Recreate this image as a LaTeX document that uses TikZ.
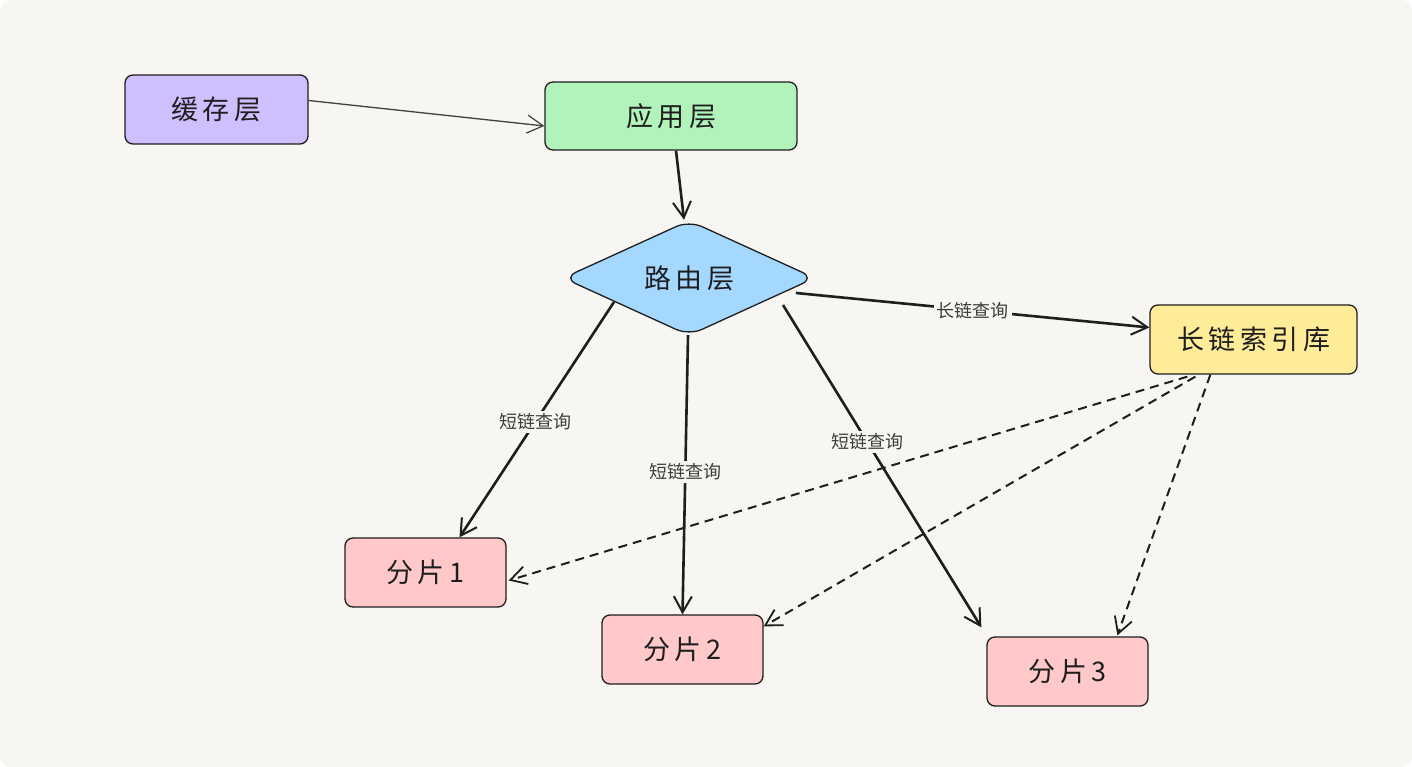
\documentclass[tikz,border=0pt]{standalone}
\usepackage{fontspec}
\newfontfamily\cjk{Noto Sans CJK SC}
\usetikzlibrary{arrows.meta,shapes.geometric,calc}
\definecolor{bgc}{RGB}{248,246,242}
\definecolor{ink}{RGB}{30,30,30}
\definecolor{violetf}{HTML}{D0BFFF}
\definecolor{greenf}{HTML}{B2F2BB}
\definecolor{bluef}{HTML}{A5D8FF}
\definecolor{yellowf}{HTML}{FFEC99}
\definecolor{redf}{HTML}{FFC9C9}
\definecolor{labc}{RGB}{60,60,60}
\tikzset{
  box/.style={draw=ink, line width=1.3pt, rounded corners=8pt, inner sep=0pt, font=\cjk\fontsize{27}{30}\selectfont, text=ink},
  conn/.style={draw=ink, line width=2.6pt, -{Straight Barb[length=16pt,width=18pt,line width=2pt]}},
  dconn/.style={draw=ink, line width=2pt, dash pattern=on 9pt off 6pt, -{Straight Barb[length=16pt,width=18pt,line width=1.8pt]}},
  lab/.style={fill=bgc, inner sep=3pt, font=\cjk\fontsize{18}{20}\selectfont, text=labc},
}
\begin{document}
\begin{tikzpicture}[x=1pt,y=-1pt]
\fill[bgc, rounded corners=10pt] (0,0) rectangle (1412,767);
\useasboundingbox (0,0) rectangle (1412,767);

\node[box, fill=violetf, minimum width=183pt, minimum height=69pt] (cache) at (216.5,109.5) {缓\,存\,层};
\node[box, fill=greenf, minimum width=252pt, minimum height=68pt] (app) at (671,116) {应\,用\,层};
\node[draw=ink, line width=1.3pt, fill=bluef, shape=diamond, rounded corners=14pt, minimum width=252pt, minimum height=113pt, inner sep=0pt, font=\cjk\fontsize{27}{30}\selectfont, text=ink] (router) at (689,278) {路\,由\,层};
\node[box, fill=yellowf, minimum width=207pt, minimum height=69pt] (lib) at (1253.5,339.5) {长\,链\,索\,引\,库};
\node[box, fill=redf, minimum width=161pt, minimum height=69pt] (s1) at (425.5,572.5) {分\,片\,1};
\node[box, fill=redf, minimum width=161pt, minimum height=69pt] (s2) at (682.5,649.5) {分\,片\,2};
\node[box, fill=redf, minimum width=161pt, minimum height=69pt] (s3) at (1067.5,671.5) {分\,片\,3};

\draw[draw=ink!85, line width=1.3pt, -{Straight Barb[length=16pt,width=18pt,line width=1.2pt]}] ($(cache.east)+(0,-9)$) -- ($(app.west)+(0,10)$);
\draw[conn] ($(app.south)+(5,0)$) -- ($(router.north)+(-5,0)$);
\draw[conn] ($(router)+(107,15)$) -- node[lab, pos=0.5] {长链查询} ($(lib.west)+(0,-12)$);
\draw[conn] ($(router)+(-75,24)$) -- node[lab, pos=0.51] {短链查询} ($(s1.north)+(34,0)$);
\draw[conn] ($(router)+(-1,57)$) -- node[lab, pos=0.49] {短链查询} (s2.north);
\draw[conn] ($(router)+(94,27)$) -- node[lab, pos=0.425] {短链查询} ($(s3.north west)+(-5,-9)$);

\draw[dconn] ($(lib.south west)+(38,2)$) -- ($(s1.east)+(2,8)$);
\draw[dconn] ($(lib.south west)+(46,2)$) -- ($(s2.north east)+(0,12)$);
\draw[dconn] ($(lib.south west)+(61,0)$) -- ($(s3.north west)+(131,-1)$);
\end{tikzpicture}
\end{document}
